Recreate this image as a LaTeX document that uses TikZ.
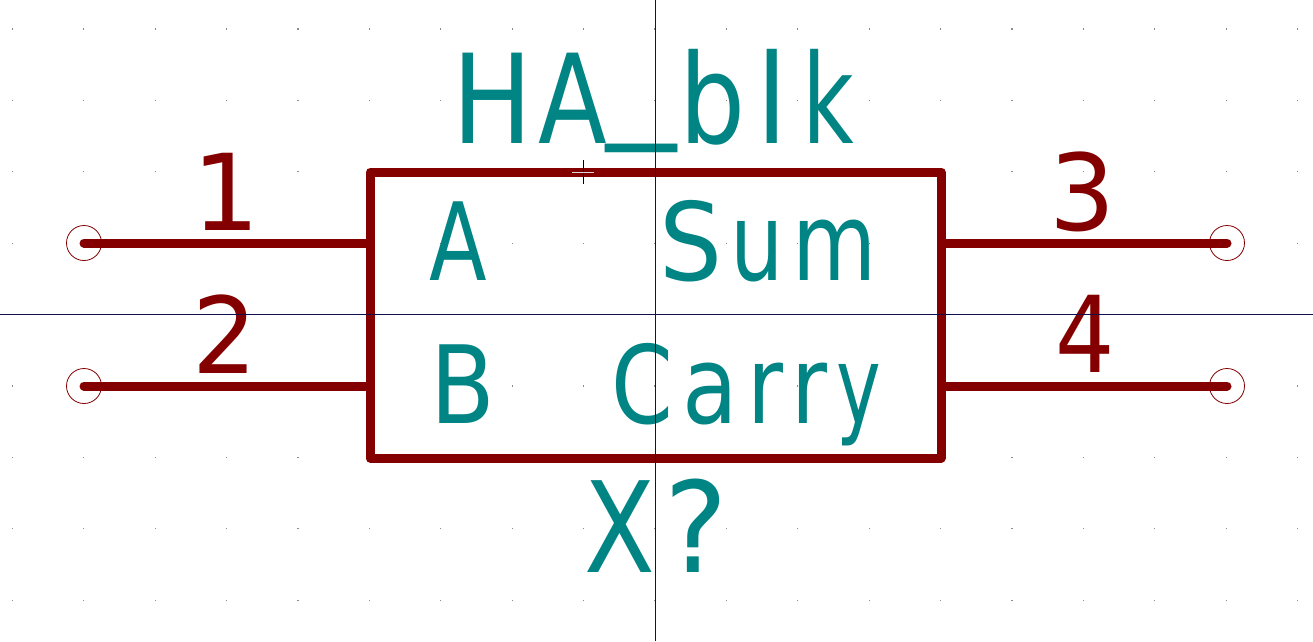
\documentclass[tikz,border=0pt]{standalone}
\usepackage{fontspec}
\setmainfont{DejaVu Sans}
\usepackage{graphicx}
\definecolor{kred}{HTML}{840000}
\definecolor{kteal}{HTML}{008484}
\definecolor{knavy}{HTML}{101050}
\newcommand{\ksz}[1]{\fontsize{#1}{#1}\selectfont}
\newcommand{\gl}[2]{\scalebox{#1}[1]{#2}}
\tikzset{
  bodybox/.style={draw=kred,line width=9pt,line join=round,minimum width=571pt,minimum height=286pt,inner sep=0pt},
  pinline/.style={draw=kred,line width=9pt,line cap=round},
  pinend/.style={circle,draw=kred,line width=0.8pt,minimum size=35pt,inner sep=0pt},
  nametxt/.style={text=kteal,anchor=base west,inner sep=0pt},
  numtxt/.style={text=kred,anchor=base west,inner sep=0pt},
  griddot/.style={fill=black!45},
  crossline/.style={draw=knavy,line width=1pt}
}
\begin{document}
\begin{tikzpicture}[x=1pt,y=-1pt]
\useasboundingbox (0,0) rectangle (1313,641);
\fill[white] (0,0) rectangle (1313,641);
% grid
\foreach \i in {-9,...,9}{
  \foreach \j in {-4,...,4}{
    \fill[griddot] ({655+71.4*\i-0.6},{314.5+71.4*\j-0.6}) rectangle ++(1.2,1.2);
  }
}
% pin ends
\node[pinend] (p1) at (84,243) {};
\node[pinend] (p2) at (84,386) {};
\node[pinend] (p3) at (1227,243) {};
\node[pinend] (p4) at (1227,386) {};
% body
\node[bodybox] (box) at (655.5,315) {};
\coordinate (w1) at (box.west |- p1);
\coordinate (w2) at (box.west |- p2);
\coordinate (e3) at (box.east |- p3);
\coordinate (e4) at (box.east |- p4);
\draw[pinline] (p1.center) -- (w1);
\draw[pinline] (p2.center) -- (w2);
\draw[pinline] (e3) -- (p3.center);
\draw[pinline] (e4) -- (p4.center);
% pin numbers
\node[numtxt] (n1) at (192,230) {\ksz{106}\gl{1}{1}};
\node[numtxt] (n2) at (192.6,373) {\ksz{106}\gl{0.96}{2}};
\node[numtxt] (n3) at (1049,230) {\ksz{106}\gl{0.98}{3}};
\node[numtxt] (n4) at (1055.4,372) {\ksz{106}\gl{0.88}{4}};
% names
\node[nametxt] (title) at (452.4,143) {\ksz{124}\gl{0.86}{H}\kern6pt\gl{0.81}{A}\kern-0.7pt\raisebox{19.5pt}{\gl{1.13}{\_}}\kern3.1pt\gl{0.84}{b}\kern10.4pt\gl{0.91}{l}\kern14.4pt\gl{0.72}{k}};
\node[nametxt] (refd) at (584,572) {\ksz{126}\gl{0.82}{X}\kern10pt\gl{0.95}{?}};
\node[nametxt] (la) at (429.4,280) {\ksz{108}\gl{0.78}{A}};
\node[nametxt] (lb) at (430.7,423) {\ksz{108}\gl{0.875}{B}};
\node[nametxt] (ls) at (659.4,280) {\ksz{108}\gl{0.92}{S}\kern7.6pt\gl{0.78}{u}\kern9.3pt\gl{0.8}{m}};
\node[nametxt] (lc) at (611,423) {\ksz{108}\gl{0.82}{C}\kern9.8pt\gl{0.84}{a}\kern8.8pt\gl{0.81}{r}\kern8pt\gl{0.81}{r}\kern9.2pt\gl{0.7}{y}};
% crosshair
\coordinate (cl) at (0,314.5);
\coordinate (cr) at (1313,314.5);
\coordinate (ct) at (655.5,0);
\coordinate (cb) at (655.5,641);
\draw[crossline] (cl) -- (cr);
\draw[crossline] (ct) -- (cb);
% cursor
\coordinate (cu) at (583,172);
\draw[draw=black,line width=1pt] ([yshift=-12pt]cu) -- ([yshift=12pt]cu);
\draw[draw=white!85!black,line width=1pt] ([xshift=-11pt]cu) -- ([xshift=11pt]cu);
\end{tikzpicture}
\end{document}
